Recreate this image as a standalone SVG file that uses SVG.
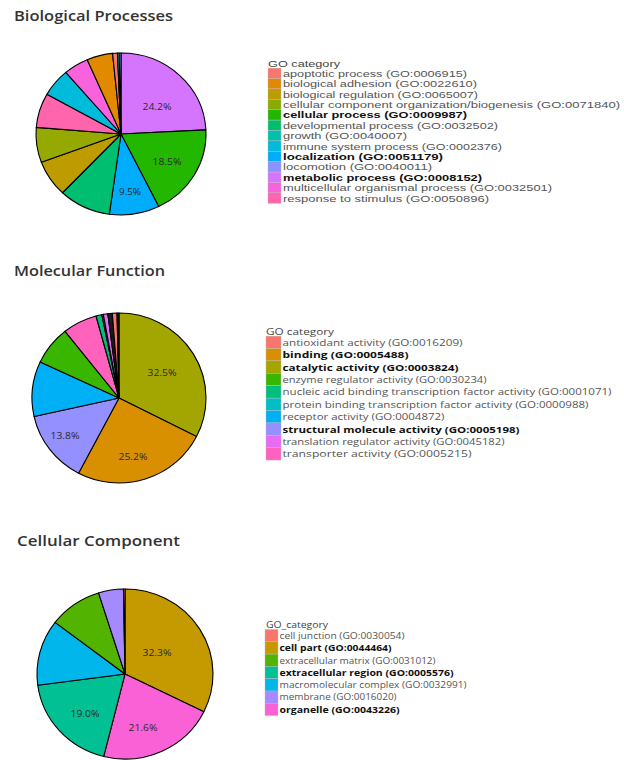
<svg xmlns="http://www.w3.org/2000/svg" width="624" height="760" viewBox="0 0 624 760">
<style>
.bg{fill:#ffffff}
.ttl{font-family:"Open Sans","DejaVu Sans",sans-serif;font-weight:600;font-size:15px;fill:#333333}
.s{stroke:#000000;stroke-width:1.1;stroke-linejoin:round}
.pct{font-family:"Open Sans","DejaVu Sans",sans-serif;font-size:9.5px;fill:#2a2a2a;text-anchor:middle}
.lt{font-family:"Open Sans","DejaVu Sans",sans-serif;fill:#555555}
.lb{font-family:"Open Sans","DejaVu Sans",sans-serif;fill:#111111;font-weight:700}
.hd{font-family:"Open Sans","DejaVu Sans",sans-serif;fill:#444444}
.l1 text{font-size:9.3px;font-family:"Liberation Sans","Arial",sans-serif}
.l2 text{font-size:9.6px}
.l3 text{font-size:9px}
.sw{stroke:#bbbbbb;stroke-width:0.4}
</style>
<rect class="bg" x="0" y="0" width="624" height="760"/>

<!-- Biological Processes -->
<g id="bp-title"><text class="ttl" x="14" y="21" textLength="159" lengthAdjust="spacingAndGlyphs">Biological Processes</text></g>
<g id="bp-pie">
<path class="s" fill="#D575FE" d="M121,134 L121,53 A85,81 0 0 1 205.89,129.90 Z"/>
<path class="s" fill="#24B700" d="M121,134 L205.89,129.90 A85,81 0 0 1 158.66,206.62 Z"/>
<path class="s" fill="#00ACFC" d="M121,134 L158.66,206.62 A85,81 0 0 1 109.32,214.23 Z"/>
<path class="s" fill="#00BE70" d="M121,134 L109.32,214.23 A85,81 0 0 1 62.49,192.76 Z"/>
<path class="s" fill="#BE9C00" d="M121,134 L62.49,192.76 A85,81 0 0 1 41.33,162.23 Z"/>
<path class="s" fill="#95A900" d="M121,134 L41.33,162.23 A85,81 0 0 1 36.29,127.36 Z"/>
<path class="s" fill="#FF65AC" d="M121,134 L36.29,127.36 A85,81 0 0 1 46.87,94.36 Z"/>
<path class="s" fill="#00BBDA" d="M121,134 L46.87,94.36 A85,81 0 0 1 65.80,72.41 Z"/>
<path class="s" fill="#F962DD" d="M121,134 L65.80,72.41 A85,81 0 0 1 87.24,59.66 Z"/>
<path class="s" fill="#E18A00" d="M121,134 L87.24,59.66 A85,81 0 0 1 112.56,53.40 Z"/>
<path class="s" fill="#F8766D" d="M121,134 L112.56,53.40 A85,81 0 0 1 117.44,53.07 Z"/>
<path class="s" fill="#00C1AB" d="M121,134 L117.44,53.07 A85,81 0 0 1 119.22,53.02 Z"/>
<path class="s" fill="#8B93FF" d="M121,134 L119.22,53.02 A85,81 0 0 1 121,53 Z"/>
<text class="pct" x="157" y="110" textLength="29" lengthAdjust="spacingAndGlyphs">24.2%</text>
<text class="pct" x="167" y="165" textLength="29" lengthAdjust="spacingAndGlyphs">18.5%</text>
<text class="pct" x="130" y="195" textLength="22" lengthAdjust="spacingAndGlyphs">9.5%</text>
</g>
<g id="bp-legend" class="l1">
<text class="hd" x="268" y="66.5" textLength="72" lengthAdjust="spacingAndGlyphs">GO category</text>
<rect class="sw" x="268" y="68.1" width="13" height="10.4" fill="#F8766D"/>
<rect class="sw" x="268" y="78.5" width="13" height="10.4" fill="#E18A00"/>
<rect class="sw" x="268" y="88.9" width="13" height="10.4" fill="#BE9C00"/>
<rect class="sw" x="268" y="99.3" width="13" height="10.4" fill="#8CAB00"/>
<rect class="sw" x="268" y="109.7" width="13" height="10.4" fill="#24B700"/>
<rect class="sw" x="268" y="120.1" width="13" height="10.4" fill="#00BE70"/>
<rect class="sw" x="268" y="130.5" width="13" height="10.4" fill="#00C1AB"/>
<rect class="sw" x="268" y="140.9" width="13" height="10.4" fill="#00BBDA"/>
<rect class="sw" x="268" y="151.3" width="13" height="10.4" fill="#00ACFC"/>
<rect class="sw" x="268" y="161.7" width="13" height="10.4" fill="#8B93FF"/>
<rect class="sw" x="268" y="172.1" width="13" height="10.4" fill="#D575FE"/>
<rect class="sw" x="268" y="182.5" width="13" height="10.4" fill="#F962DD"/>
<rect class="sw" x="268" y="192.9" width="13" height="10.4" fill="#FF65AC"/>
<text class="lt" x="283" y="76.7" textLength="184" lengthAdjust="spacingAndGlyphs">apoptotic process (GO:0006915)</text>
<text class="lt" x="283" y="87.1" textLength="194" lengthAdjust="spacingAndGlyphs">biological adhesion (GO:0022610)</text>
<text class="lt" x="283" y="97.5" textLength="195" lengthAdjust="spacingAndGlyphs">biological regulation (GO:0065007)</text>
<text class="lt" x="283" y="107.9" textLength="337" lengthAdjust="spacingAndGlyphs">cellular component organization/biogenesis (GO:0071840)</text>
<text class="lb" x="283" y="118.3" textLength="184" lengthAdjust="spacingAndGlyphs">cellular process (GO:0009987)</text>
<text class="lt" x="283" y="128.7" textLength="215" lengthAdjust="spacingAndGlyphs">developmental process (GO:0032502)</text>
<text class="lt" x="283" y="139.1" textLength="124" lengthAdjust="spacingAndGlyphs">growth (GO:0040007)</text>
<text class="lt" x="283" y="149.5" textLength="219" lengthAdjust="spacingAndGlyphs">immune system process (GO:0002376)</text>
<text class="lb" x="283" y="159.9" textLength="160" lengthAdjust="spacingAndGlyphs">localization (GO:0051179)</text>
<text class="lt" x="283" y="170.3" textLength="149" lengthAdjust="spacingAndGlyphs">locomotion (GO:0040011)</text>
<text class="lb" x="283" y="180.7" textLength="199" lengthAdjust="spacingAndGlyphs">metabolic process (GO:0008152)</text>
<text class="lt" x="283" y="191.1" textLength="269" lengthAdjust="spacingAndGlyphs">multicellular organismal process (GO:0032501)</text>
<text class="lt" x="283" y="201.5" textLength="206" lengthAdjust="spacingAndGlyphs">response to stimulus (GO:0050896)</text>
</g>

<!-- Molecular Function -->
<g id="mf-title"><text class="ttl" x="14" y="276" textLength="151" lengthAdjust="spacingAndGlyphs">Molecular Function</text></g>
<g id="mf-pie">
<path class="s" fill="#A3A500" d="M119,398 L119,313 A87,85 0 0 1 196.52,436.59 Z"/>
<path class="s" fill="#D89000" d="M119,398 L196.52,436.59 A87,85 0 0 1 78.56,473.26 Z"/>
<path class="s" fill="#9590FF" d="M119,398 L78.56,473.26 A87,85 0 0 1 34.10,416.54 Z"/>
<path class="s" fill="#00B0F6" d="M119,398 L34.10,416.54 A87,85 0 0 1 40.15,362.08 Z"/>
<path class="s" fill="#39B600" d="M119,398 L40.15,362.08 A87,85 0 0 1 65.09,331.29 Z"/>
<path class="s" fill="#FF62BC" d="M119,398 L65.09,331.29 A87,85 0 0 1 96.04,316.01 Z"/>
<path class="s" fill="#00BF7D" d="M119,398 L96.04,316.01 A87,85 0 0 1 101.80,314.68 Z"/>
<path class="s" fill="#00BFC4" d="M119,398 L101.80,314.68 A87,85 0 0 1 103.29,314.40 Z"/>
<path class="s" fill="#E76BF3" d="M119,398 L103.29,314.40 A87,85 0 0 1 107.79,313.71 Z"/>
<path class="s" fill="#1a1a1a" d="M119,398 L107.79,313.71 A87,85 0 0 1 112.33,313.25 Z"/>
<path class="s" fill="#F8766D" d="M119,398 L112.33,313.25 A87,85 0 0 1 117.03,313.02 Z"/>
<path class="s" fill="#1a1a1a" d="M119,398 L117.03,313.02 A87,85 0 0 1 119,313 Z"/>
<text class="pct" x="162" y="376" textLength="29" lengthAdjust="spacingAndGlyphs">32.5%</text>
<text class="pct" x="65" y="439" textLength="29" lengthAdjust="spacingAndGlyphs">13.8%</text>
<text class="pct" x="133" y="460" textLength="29" lengthAdjust="spacingAndGlyphs">25.2%</text>
</g>
<g id="mf-legend" class="l2">
<text class="hd" x="266" y="334.5" textLength="68" lengthAdjust="spacingAndGlyphs">GO category</text>
<rect class="sw" x="266" y="336.1" width="15" height="12.4" fill="#F8766D"/>
<rect class="sw" x="266" y="348.5" width="15" height="12.4" fill="#D89000"/>
<rect class="sw" x="266" y="360.9" width="15" height="12.4" fill="#A3A500"/>
<rect class="sw" x="266" y="373.3" width="15" height="12.4" fill="#39B600"/>
<rect class="sw" x="266" y="385.7" width="15" height="12.4" fill="#00BF7D"/>
<rect class="sw" x="266" y="398.1" width="15" height="12.4" fill="#00BFC4"/>
<rect class="sw" x="266" y="410.5" width="15" height="12.4" fill="#00B0F6"/>
<rect class="sw" x="266" y="422.9" width="15" height="12.4" fill="#9590FF"/>
<rect class="sw" x="266" y="435.3" width="15" height="12.4" fill="#E76BF3"/>
<rect class="sw" x="266" y="447.7" width="15" height="12.4" fill="#FF62BC"/>
<text class="lt" x="282.5" y="345.8" textLength="180" lengthAdjust="spacingAndGlyphs">antioxidant activity (GO:0016209)</text>
<text class="lb" x="282.5" y="358.2" textLength="126" lengthAdjust="spacingAndGlyphs">binding (GO:0005488)</text>
<text class="lb" x="282.5" y="370.6" textLength="176" lengthAdjust="spacingAndGlyphs">catalytic activity (GO:0003824)</text>
<text class="lt" x="282.5" y="383" textLength="204" lengthAdjust="spacingAndGlyphs">enzyme regulator activity (GO:0030234)</text>
<text class="lt" x="282.5" y="395.4" textLength="329" lengthAdjust="spacingAndGlyphs">nucleic acid binding transcription factor activity (GO:0001071)</text>
<text class="lt" x="282.5" y="407.8" textLength="306" lengthAdjust="spacingAndGlyphs">protein binding transcription factor activity (GO:0000988)</text>
<text class="lt" x="282.5" y="420.2" textLength="162" lengthAdjust="spacingAndGlyphs">receptor activity (GO:0004872)</text>
<text class="lb" x="282.5" y="432.6" textLength="237" lengthAdjust="spacingAndGlyphs">structural molecule activity (GO:0005198)</text>
<text class="lt" x="282.5" y="445" textLength="222" lengthAdjust="spacingAndGlyphs">translation regulator activity (GO:0045182)</text>
<text class="lt" x="282.5" y="457.4" textLength="189" lengthAdjust="spacingAndGlyphs">transporter activity (GO:0005215)</text>
</g>

<!-- Cellular Component -->
<g id="cc-title"><text class="ttl" x="17" y="546" textLength="163" lengthAdjust="spacingAndGlyphs">Cellular Component</text></g>
<g id="cc-pie">
<path class="s" fill="#C49A00" d="M125,674 L125,589 A88,85 0 0 1 203.89,711.66 Z"/>
<path class="s" fill="#FB61D7" d="M125,674 L203.89,711.66 A88,85 0 0 1 103.71,756.48 Z"/>
<path class="s" fill="#00C094" d="M125,674 L103.71,756.48 A88,85 0 0 1 37.77,685.24 Z"/>
<path class="s" fill="#00B6EB" d="M125,674 L37.77,685.24 A88,85 0 0 1 55.09,622.37 Z"/>
<path class="s" fill="#53B400" d="M125,674 L55.09,622.37 A88,85 0 0 1 98.54,592.93 Z"/>
<path class="s" fill="#A58AFF" d="M125,674 L98.54,592.93 A88,85 0 0 1 123.46,589.01 Z"/>
<path class="s" fill="#F8766D" d="M125,674 L123.46,589.01 A88,85 0 0 1 125,589 Z"/>
<text class="pct" x="157" y="656" textLength="29" lengthAdjust="spacingAndGlyphs">32.3%</text>
<text class="pct" x="85" y="717" textLength="29" lengthAdjust="spacingAndGlyphs">19.0%</text>
<text class="pct" x="143" y="731" textLength="29" lengthAdjust="spacingAndGlyphs">21.6%</text>
</g>
<g id="cc-legend" class="l3">
<text class="hd" x="266" y="627.5" textLength="62" lengthAdjust="spacingAndGlyphs">GO_category</text>
<rect class="sw" x="265" y="629.5" width="13" height="12.3" fill="#F8766D"/>
<rect class="sw" x="265" y="641.8" width="13" height="12.3" fill="#C49A00"/>
<rect class="sw" x="265" y="654.1" width="13" height="12.3" fill="#53B400"/>
<rect class="sw" x="265" y="666.4" width="13" height="12.3" fill="#00C094"/>
<rect class="sw" x="265" y="678.7" width="13" height="12.3" fill="#00B6EB"/>
<rect class="sw" x="265" y="691" width="13" height="12.3" fill="#A58AFF"/>
<rect class="sw" x="265" y="703.3" width="13" height="12.3" fill="#FB61D7"/>
<text class="lt" x="279.5" y="638.9" textLength="125" lengthAdjust="spacingAndGlyphs">cell junction (GO:0030054)</text>
<text class="lb" x="279.5" y="651.2" textLength="112" lengthAdjust="spacingAndGlyphs">cell part (GO:0044464)</text>
<text class="lt" x="279.5" y="663.5" textLength="156" lengthAdjust="spacingAndGlyphs">extracellular matrix (GO:0031012)</text>
<text class="lb" x="279.5" y="675.8" textLength="174" lengthAdjust="spacingAndGlyphs">extracellular region (GO:0005576)</text>
<text class="lt" x="279.5" y="688.1" textLength="187" lengthAdjust="spacingAndGlyphs">macromolecular complex (GO:0032991)</text>
<text class="lt" x="279.5" y="700.4" textLength="117" lengthAdjust="spacingAndGlyphs">membrane (GO:0016020)</text>
<text class="lb" x="279.5" y="712.7" textLength="120" lengthAdjust="spacingAndGlyphs">organelle (GO:0043226)</text>
</g>
<g id="connectors"/>
</svg>
